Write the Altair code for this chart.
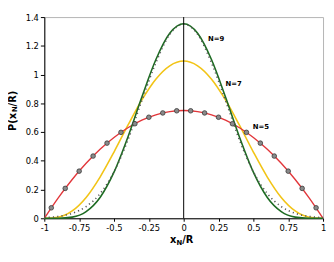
import altair as alt
import pandas as pd

# ---- data ----
x_grid = [-1.0, -0.9, -0.8, -0.7, -0.6, -0.5, -0.4, -0.3, -0.2, -0.1, 0.0,
          0.1, 0.2, 0.3, 0.4, 0.5, 0.6, 0.7, 0.8, 0.9, 1.0]
n5 = [0.0, 0.1425, 0.27, 0.3825, 0.48, 0.5625, 0.63, 0.6825, 0.72, 0.7425, 0.75,
      0.7425, 0.72, 0.6825, 0.63, 0.5625, 0.48, 0.3825, 0.27, 0.1425, 0.0]
n7 = [0.0, 0.0075, 0.051, 0.145, 0.287, 0.461, 0.648, 0.824, 0.968, 1.061, 1.094,
      1.061, 0.968, 0.824, 0.648, 0.461, 0.287, 0.145, 0.051, 0.0075, 0.0]
n9 = [0.0, 0.0003, 0.0082, 0.0467, 0.145, 0.321, 0.566, 0.844, 1.103, 1.287, 1.353,
      1.287, 1.103, 0.844, 0.566, 0.321, 0.145, 0.0467, 0.0082, 0.0003, 0.0]
limit = [0.0044, 0.0131, 0.0346, 0.0816, 0.172, 0.323, 0.545, 0.82, 1.08, 1.28, 1.35,
         1.28, 1.08, 0.82, 0.545, 0.323, 0.172, 0.0816, 0.0346, 0.0131, 0.0044]

pts_x = [-0.95, -0.85, -0.75, -0.65, -0.55, -0.45, -0.35, -0.25, -0.15, -0.05,
         0.05, 0.15, 0.25, 0.35, 0.45, 0.55, 0.65, 0.75, 0.85, 0.95]
pts_y = [0.073, 0.208, 0.328, 0.433, 0.523, 0.598, 0.658, 0.703, 0.733, 0.748,
         0.748, 0.733, 0.703, 0.658, 0.598, 0.523, 0.433, 0.328, 0.208, 0.073]

labels = ["N=9", "N=7", "N=5"]
label_x = [0.175, 0.30, 0.495]
label_y = [1.245, 0.935, 0.632]

x_ticks = [-1, -0.75, -0.5, -0.25, 0, 0.25, 0.5, 0.75, 1]
y_ticks = [0, 0.2, 0.4, 0.6, 0.8, 1, 1.2, 1.4]

FONT = "DejaVu Sans"

xs = alt.Scale(domain=[-1, 1], nice=False, zero=False)
ys = alt.Scale(domain=[0, 1.4], nice=False)

x_axis = alt.Axis(values=x_ticks, labelExpr="'' + datum.value", title=None,
                  grid=False, domainColor="black", tickColor="black", tickSize=3,
                  labelPadding=2, labelFont=FONT, labelFontSize=8.5, labelColor="black",
                  labelOverlap=False, labelFlush=False)
y_axis = alt.Axis(values=y_ticks, labelExpr="'' + datum.value", title=None,
                  grid=False, domainColor="black", tickColor="black", tickSize=4,
                  labelPadding=2, labelFont=FONT, labelFontSize=8.5, labelColor="black",
                  labelOverlap=False, labelFlush=False)

X = alt.X("x:Q", scale=xs, axis=x_axis)
Y = alt.Y("y:Q", scale=ys, axis=y_axis)


def curve(vals, color, **kw):
    df = pd.DataFrame({"x": x_grid, "y": vals})
    return alt.Chart(df).mark_line(color=color, interpolate="monotone", **kw).encode(x=X, y=Y)


yellow = curve(n7, "#f2c416", strokeWidth=1.6)
red = curve(n5, "#e2363a", strokeWidth=1.4)
green = curve(n9, "#1d6b22", strokeWidth=1.6)
dotted = curve(limit, "#555555", strokeWidth=1.6, strokeDash=[1.2, 3.2])

circles = alt.Chart(pd.DataFrame({"x": pts_x, "y": pts_y})).mark_point(
    shape="circle", filled=True, size=22, fill="#8a8a8a", stroke="#3a3a3a",
    strokeWidth=0.8, opacity=1
).encode(x=X, y=Y)

vline = alt.Chart(pd.DataFrame({"x": [0]})).mark_rule(color="black", strokeWidth=1).encode(x=X)

lab = alt.Chart(pd.DataFrame({"x": label_x, "y": label_y, "t": labels})).mark_text(
    align="left", baseline="middle", font=FONT, fontSize=7, fontWeight="bold", color="black"
).encode(x=X, y=Y, text="t:N")

one = pd.DataFrame({"a": [0]})


def txt(s, x, y, size, angle=0):
    return alt.Chart(one).mark_text(
        text=s, align="left", baseline="alphabetic", font=FONT, fontSize=size,
        fontWeight="bold", color="black", angle=angle
    ).encode(x=alt.value(x), y=alt.value(y))


# x axis title: x_N/R
TY = 230.5
xt1 = txt("x", 128, TY, 10)
xt2 = txt("N", 134.8, TY + 1.5, 7)
xt3 = txt("/R", 140.5, TY, 10)
# y axis title: P(x_N/R), rotated
yt1 = txt("P(x", -29, 116, 10, 270)
yt2 = txt("N", -27.5, 96.8, 7, 270)
yt3 = txt("/R)", -29, 91, 10, 270)

chart = alt.layer(
    yellow, red, green, dotted, circles, vline, lab, xt1, xt2, xt3, yt1, yt2, yt3
).properties(
    width=284, height=205, autosize="none",
    padding={"left": 37, "top": 7, "right": 3, "bottom": 27}
).configure_view(stroke="#b4b4b4", strokeWidth=1)

chart.save("out.html", embed_options={"renderer": "svg", "actions": False})
